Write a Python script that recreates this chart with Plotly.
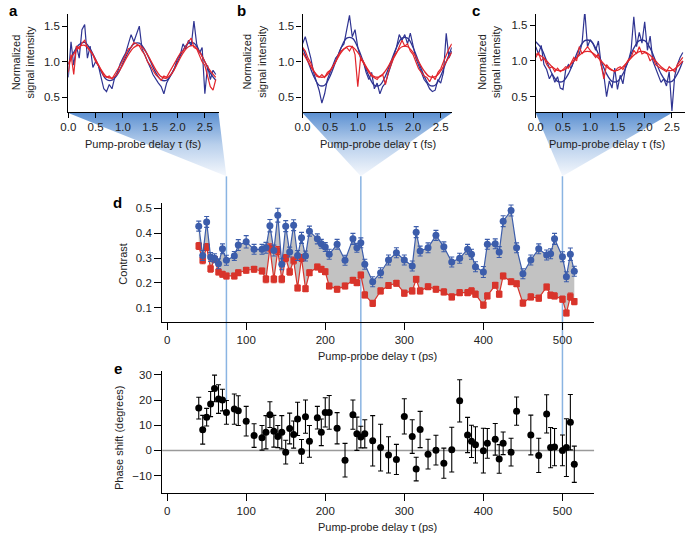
import plotly.graph_objects as go

W, H = 685, 535
FONT = "Liberation Sans, Arial, sans-serif"
TXT = "#222222"

# ---------------- panels a-c : time grids (fs) ----------------
T_RAW = [0.00, 0.05, 0.10, 0.15, 0.20, 0.25, 0.30, 0.35, 0.40, 0.45, 0.50, 0.55, 0.60, 0.65,
         0.70, 0.75, 0.80, 0.85, 0.90, 0.95, 1.00, 1.05, 1.10, 1.15, 1.20, 1.25, 1.30, 1.35,
         1.40, 1.45, 1.50, 1.55, 1.60, 1.65, 1.70, 1.75, 1.80, 1.85, 1.90, 1.95, 2.00, 2.05,
         2.10, 2.15, 2.20, 2.25, 2.30, 2.35, 2.40, 2.45, 2.50, 2.55, 2.60, 2.65, 2.70]
T_FIT = [0.0, 0.1, 0.2, 0.3, 0.4, 0.5, 0.6, 0.7, 0.8, 0.9, 1.0, 1.1, 1.2, 1.3, 1.4,
         1.5, 1.6, 1.7, 1.8, 1.9, 2.0, 2.1, 2.2, 2.3, 2.4, 2.5, 2.6, 2.7]

# panel a
a_blue_raw = [0.78, 1.28, 0.95, 1.22, 1.05, 1.45, 1.52, 1.05, 1.22, 0.92, 1.00, 0.95, 0.78, 0.62,
              0.58, 0.68, 0.62, 0.78, 0.85, 0.97, 1.05, 1.12, 1.25, 1.38, 1.28, 1.40, 1.50, 1.18,
              1.10, 1.02, 0.92, 0.82, 0.75, 0.70, 0.65, 0.55, 0.70, 0.78, 0.85, 0.92, 1.05, 1.10,
              1.25, 1.18, 1.30, 1.22, 1.57, 1.25, 1.12, 1.20, 0.55, 0.95, 0.75, 0.88, 0.82]
a_red_raw = [0.85, 1.10, 0.82, 1.22, 1.18, 1.26, 1.30, 1.20, 1.15, 1.10, 1.00, 0.95, 0.88, 0.80,
             0.78, 0.80, 0.76, 0.82, 0.88, 0.95, 1.02, 1.10, 1.18, 1.20, 1.27, 1.25, 1.22, 1.15,
             1.10, 1.00, 0.95, 0.88, 0.82, 0.78, 0.74, 0.80, 0.78, 0.85, 0.92, 1.00, 1.05, 1.12,
             1.15, 1.22, 1.28, 1.33, 1.20, 1.18, 1.10, 1.00, 0.95, 0.78, 0.65, 0.60, 0.75]
a_blue_fit = [0.96, 1.13, 1.24, 1.27, 1.18, 1.03, 0.865, 0.75, 0.74, 0.82, 0.98, 1.14, 1.25, 1.26,
              1.17, 1.01, 0.85, 0.745, 0.74, 0.84, 1.00, 1.16, 1.26, 1.26, 1.15, 1.00, 0.84, 0.74]
a_red_fit = [0.97, 1.11, 1.21, 1.23, 1.16, 1.03, 0.89, 0.79, 0.77, 0.83, 0.96, 1.10, 1.20, 1.23,
             1.16, 1.03, 0.89, 0.79, 0.77, 0.84, 0.98, 1.12, 1.21, 1.22, 1.14, 1.00, 0.87, 0.78]

# panel b
b_blue_raw = [1.25, 1.35, 1.20, 1.05, 0.85, 0.72, 0.60, 0.42, 0.55, 0.75, 0.85, 0.95, 1.05, 1.10,
              1.20, 1.25, 1.45, 1.65, 1.35, 1.45, 1.20, 1.05, 1.00, 0.85, 0.75, 0.85, 0.62, 0.70,
              0.55, 0.65, 0.70, 0.82, 0.95, 1.05, 1.20, 1.38, 1.30, 1.38, 1.25, 1.40, 1.20, 1.05,
              0.95, 0.85, 0.75, 0.70, 0.62, 0.58, 0.60, 0.75, 0.70, 0.85, 1.40, 1.05, 1.15]
b_red_raw = [1.20, 1.15, 1.05, 0.98, 0.88, 0.80, 0.78, 0.82, 0.78, 0.85, 0.88, 0.95, 1.00, 1.10,
             1.15, 1.18, 1.20, 1.15, 1.22, 1.10, 0.65, 1.05, 0.98, 0.90, 0.85, 0.80, 0.78, 0.75,
             0.80, 0.82, 0.68, 0.85, 0.95, 1.05, 1.12, 1.20, 1.30, 1.22, 1.25, 1.15, 1.10, 1.00,
             0.90, 0.85, 0.80, 0.78, 0.72, 0.80, 0.75, 0.85, 0.90, 1.00, 1.10, 1.18, 1.25]
b_blue_fit = [1.20, 1.00, 0.80, 0.67, 0.67, 0.80, 1.00, 1.20, 1.33, 1.33, 1.20, 1.00, 0.80, 0.67,
              0.67, 0.80, 1.00, 1.20, 1.33, 1.33, 1.20, 1.00, 0.80, 0.67, 0.67, 0.80, 1.00, 1.20]
b_red_fit = [1.13, 1.00, 0.87, 0.79, 0.79, 0.87, 1.00, 1.13, 1.21, 1.21, 1.13, 1.00, 0.87, 0.79,
             0.79, 0.87, 1.00, 1.13, 1.21, 1.21, 1.13, 1.00, 0.87, 0.79, 0.79, 0.87, 1.00, 1.13]

# panel c
c_blue_raw = [1.20, 1.10, 1.22, 0.95, 0.88, 0.75, 0.82, 0.70, 0.78, 0.62, 0.60, 0.88, 0.95, 0.90,
              1.00, 1.05, 1.10, 1.25, 1.70, 1.20, 1.30, 1.25, 1.15, 1.28, 0.95, 0.80, 0.50, 0.72,
              0.62, 0.90, 0.60, 0.80, 0.68, 0.92, 1.00, 1.15, 1.62, 1.20, 1.40, 1.25, 1.55, 1.15,
              1.35, 1.00, 0.90, 0.82, 0.70, 0.75, 0.65, 0.85, 0.30, 0.78, 0.95, 1.05, 1.12]
c_red_raw = [1.05, 1.12, 1.00, 1.05, 0.95, 0.90, 0.92, 0.85, 0.90, 0.85, 0.88, 0.92, 0.90, 0.98,
             1.05, 1.00, 1.20, 1.10, 1.15, 1.20, 1.15, 1.10, 1.05, 1.10, 0.95, 0.75, 0.95, 0.90,
             0.88, 0.85, 0.90, 0.92, 0.88, 0.95, 1.02, 1.05, 1.15, 1.10, 1.20, 1.10, 1.12, 1.10,
             1.00, 1.05, 0.95, 0.92, 0.90, 0.88, 0.85, 0.92, 0.88, 0.85, 0.95, 1.00, 1.05]
c_blue_fit = [1.27, 1.18, 1.00, 0.82, 0.715, 0.715, 0.82, 1.00, 1.18, 1.285, 1.285, 1.18, 1.00, 0.82,
              0.715, 0.715, 0.82, 1.00, 1.18, 1.285, 1.285, 1.18, 1.00, 0.82, 0.715, 0.715, 0.82, 1.00]
c_red_fit = [1.10, 1.07, 1.00, 0.92, 0.87, 0.87, 0.92, 1.00, 1.08, 1.13, 1.13, 1.08, 1.00, 0.92,
             0.87, 0.87, 0.92, 1.00, 1.08, 1.13, 1.13, 1.08, 1.00, 0.92, 0.87, 0.87, 0.92, 1.00]

# ---------------- panel d : contrast vs delay (ps) ----------------
d_delay = [40, 45, 50, 55, 60, 65, 70, 75, 85, 90, 100, 110, 120, 125, 130, 135, 140, 145, 150,
           155, 160, 165, 170, 175, 180, 190, 195, 200, 205, 215, 225, 235, 240, 245, 250, 260,
           270, 280, 290, 300, 310, 315, 320, 330, 340, 350, 360, 370, 380, 385, 390, 400, 405,
           415, 420, 425, 435, 442, 450, 460, 470, 480, 485, 490, 500, 505, 510, 515]
d_blue = [0.428, 0.310, 0.445, 0.304, 0.299, 0.277, 0.337, 0.291, 0.308, 0.352, 0.365, 0.335,
          0.335, 0.341, 0.430, 0.330, 0.472, 0.275, 0.428, 0.324, 0.432, 0.310, 0.381, 0.308,
          0.408, 0.377, 0.357, 0.344, 0.315, 0.355, 0.291, 0.377, 0.341, 0.361, 0.275, 0.205,
          0.241, 0.292, 0.321, 0.292, 0.268, 0.404, 0.328, 0.341, 0.391, 0.345, 0.284, 0.299,
          0.335, 0.315, 0.265, 0.244, 0.355, 0.357, 0.324, 0.448, 0.491, 0.341, 0.237, 0.292,
          0.337, 0.312, 0.317, 0.377, 0.305, 0.225, 0.315, 0.247]
d_blue_err = [0.020, 0.020, 0.022, 0.018, 0.018, 0.020, 0.020, 0.020, 0.018, 0.022, 0.025, 0.020,
              0.020, 0.022, 0.025, 0.022, 0.028, 0.022, 0.022, 0.020, 0.022, 0.020, 0.022, 0.020,
              0.020, 0.020, 0.018, 0.018, 0.020, 0.020, 0.020, 0.022, 0.018, 0.020, 0.020, 0.020,
              0.020, 0.020, 0.020, 0.020, 0.020, 0.022, 0.020, 0.020, 0.020, 0.020, 0.020, 0.020,
              0.020, 0.020, 0.020, 0.022, 0.020, 0.020, 0.022, 0.022, 0.022, 0.020, 0.020, 0.020,
              0.020, 0.020, 0.020, 0.022, 0.020, 0.020, 0.025, 0.020]
d_red = [0.348, 0.291, 0.344, 0.257, 0.295, 0.244, 0.235, 0.228, 0.228, 0.241, 0.251, 0.255,
         0.248, 0.215, 0.341, 0.215, 0.330, 0.215, 0.300, 0.245, 0.290, 0.180, 0.300, 0.177,
         0.241, 0.264, 0.255, 0.245, 0.188, 0.175, 0.188, 0.211, 0.201, 0.232, 0.152, 0.118,
         0.168, 0.190, 0.199, 0.159, 0.168, 0.215, 0.168, 0.185, 0.175, 0.164, 0.144, 0.161,
         0.161, 0.168, 0.155, 0.111, 0.148, 0.191, 0.155, 0.228, 0.205, 0.197, 0.119, 0.144,
         0.139, 0.184, 0.151, 0.148, 0.135, 0.079, 0.145, 0.125]
d_red_err = [0.014, 0.014, 0.014, 0.014, 0.012, 0.012, 0.012, 0.012, 0.012, 0.012, 0.012, 0.012,
             0.012, 0.014, 0.016, 0.014, 0.016, 0.014, 0.014, 0.014, 0.014, 0.012, 0.014, 0.012,
             0.012, 0.012, 0.012, 0.012, 0.012, 0.012, 0.012, 0.012, 0.012, 0.012, 0.012, 0.012,
             0.012, 0.012, 0.012, 0.012, 0.012, 0.012, 0.012, 0.012, 0.012, 0.012, 0.012, 0.012,
             0.012, 0.012, 0.012, 0.012, 0.012, 0.012, 0.012, 0.012, 0.012, 0.012, 0.012, 0.012,
             0.012, 0.012, 0.012, 0.012, 0.012, 0.012, 0.014, 0.012]

# ---------------- panel e : phase shift vs delay (ps) ----------------
e_delay = [40, 45, 50, 55, 60, 65, 70, 75, 85, 90, 100, 110, 120, 125, 130, 135, 140, 145, 150,
           155, 160, 165, 170, 175, 180, 190, 195, 200, 205, 215, 225, 235, 240, 245, 250, 260,
           270, 280, 290, 300, 310, 315, 320, 330, 340, 350, 360, 370, 380, 385, 390, 400, 405,
           415, 420, 425, 435, 442, 460, 470, 480, 485, 490, 500, 505, 510, 515]
e_phase = [16.8, 8.2, 13.2, 18.4, 24.6, 20.4, 20.0, 15.1, 16.4, 15.8, 11.6, 5.9, 5.0, 7.2, 14.2,
           7.6, 5.5, 7.2, -0.7, 8.7, 6.3, 12.5, -0.4, 13.4, 3.6, 13.0, 7.2, 15.1, 15.1, 8.8, -3.9,
           14.2, 6.6, 5.3, 6.6, 3.8, 1.1, -1.8, -3.6, 13.5, 5.5, -7.4, 8.3, -1.5, 0.1, -5.1, 0.3,
           19.7, 6.1, 3.6, 2.2, -0.1, 2.8, 4.4, -3.4, 2.8, -0.7, 15.6, 6.1, -2.0, 14.5, 1.1, 1.3,
           0.0, 1.1, 11.2, -5.5]
e_err = [4.3, 5.7, 3.5, 5.0, 5.3, 5.7, 4.3, 4.7, 6.0, 5.9, 5.9, 4.7, 4.9, 6.6, 5.1, 6.3, 4.4,
         6.6, 4.7, 6.1, 5.4, 6.6, 4.7, 6.6, 6.3, 4.5, 5.3, 5.8, 6.7, 6.2, 6.7, 5.8, 6.6, 4.3, 5.6,
         10.0, 9.3, 7.2, 6.0, 7.0, 6.7, 4.7, 7.2, 5.9, 5.9, 6.0, 8.9, 8.4, 7.0, 6.4, 7.2, 8.9,
         5.9, 6.3, 5.7, 4.5, 5.5, 5.6, 7.9, 6.8, 7.6, 8.0, 7.4, 6.1, 11.5, 11.0, 7.2]

# delays of the example traces a, b, c
example_delays = [75, 245, 500]

# ---------------- geometry (pixels) ----------------
PANELS_TOP = {
    "a": dict(xd=(61, 213), yd=(12, 110), xr=(0, 2.75), yr=(0.30, 1.67), wedge=(0, 2.75)),
    "b": dict(xd=(298, 449), yd=(12, 110), xr=(0, 2.70), yr=(0.30, 1.67), wedge=(0, 2.70)),
    "c": dict(xd=(534, 685), yd=(12, 110), xr=(0, 2.74), yr=(0.29, 1.66), wedge=(0, 2.50)),
}
D = dict(xd=(156, 593), yd=(202, 321), xr=(-6.25, 540), yr=(0.044, 0.52))
E = dict(xd=(156, 593), yd=(370, 493), xr=(-6.25, 540), yr=(-17, 31.7))
APEX_Y = 175


def fx(px):
    return px / W


def fy(py):
    return 1 - py / H


def to_px_x(v, p):
    (a, b), (r0, r1) = p["xd"], p["xr"]
    return a + (v - r0) / (r1 - r0) * (b - a)


def to_px_y(v, p):
    (top, bot), (r0, r1) = p["yd"], p["yr"]
    return bot - (v - r0) / (r1 - r0) * (bot - top)


BLUE_LINE = "#2f3492"
RED_LINE = "#e2262c"
BLUE_PT = "#3c5dab"
RED_PT = "#d8342b"
GUIDE = "#8ab4e2"

fig = go.Figure()

# overlay (pixel coordinates): wedges and guide lines
for key, delay in zip(["a", "b", "c"], example_delays):
    p = PANELS_TOP[key]
    xl = to_px_x(p["wedge"][0], p)
    xr = to_px_x(p["wedge"][1], p)
    ytop = p["yd"][1] + 1.5
    xa = to_px_x(delay, D)
    fig.add_trace(go.Scatter(
        x=[xl, xr, xa, xl], y=[ytop, ytop, APEX_Y, ytop], mode="lines", fill="toself",
        line=dict(width=0, color="rgba(0,0,0,0)"),
        fillgradient=dict(type="vertical", colorscale=[[0, "#f5f8fd"], [0.5, "#b9d0ec"], [1, "#5d91d2"]]),
        xaxis="x", yaxis="y", hoverinfo="skip", showlegend=False))
    i = e_delay.index(delay)
    yend = to_px_y(e_phase[i] + e_err[i], E)
    fig.add_trace(go.Scatter(
        x=[xa, xa], y=[APEX_Y, yend], mode="lines", line=dict(color=GUIDE, width=1.5),
        xaxis="x", yaxis="y", hoverinfo="skip", showlegend=False))

# panels a-c
series = {
    "a": (a_blue_raw, a_blue_fit, a_red_raw, a_red_fit),
    "b": (b_blue_raw, b_blue_fit, b_red_raw, b_red_fit),
    "c": (c_blue_raw, c_blue_fit, c_red_raw, c_red_fit),
}
axn = {"a": 2, "b": 3, "c": 4}
for key, (br, bf, rr, rf) in series.items():
    n = axn[key]
    xa, ya = f"x{n}", f"y{n}"
    fig.add_trace(go.Scatter(x=T_RAW, y=br, mode="lines", line=dict(color=BLUE_LINE, width=1.2),
                             xaxis=xa, yaxis=ya, showlegend=False))
    fig.add_trace(go.Scatter(x=T_FIT, y=bf, mode="lines", line=dict(color=BLUE_LINE, width=1.3, shape="spline"),
                             xaxis=xa, yaxis=ya, showlegend=False))
    fig.add_trace(go.Scatter(x=T_RAW, y=rr, mode="lines", line=dict(color=RED_LINE, width=1.2),
                             xaxis=xa, yaxis=ya, showlegend=False))
    fig.add_trace(go.Scatter(x=T_FIT, y=rf, mode="lines", line=dict(color=RED_LINE, width=1.3, shape="spline"),
                             xaxis=xa, yaxis=ya, showlegend=False))

# panel d: gray band then points
fig.add_trace(go.Scatter(x=d_delay, y=d_red, mode="lines", line=dict(width=0, color="rgba(0,0,0,0)"),
                         xaxis="x5", yaxis="y5", showlegend=False, hoverinfo="skip"))
fig.add_trace(go.Scatter(x=d_delay, y=d_blue, mode="lines", line=dict(width=0, color="rgba(0,0,0,0)"),
                         fill="tonexty", fillcolor="#c2c2c2",
                         xaxis="x5", yaxis="y5", showlegend=False, hoverinfo="skip"))
fig.add_trace(go.Scatter(x=d_delay, y=d_red, mode="lines+markers",
                         line=dict(color=RED_PT, width=1.2),
                         marker=dict(symbol="square", size=6.5, color=RED_PT),
                         error_y=dict(type="data", array=d_red_err, color=RED_PT, thickness=1.1, width=2.5),
                         xaxis="x5", yaxis="y5", showlegend=False))
fig.add_trace(go.Scatter(x=d_delay, y=d_blue, mode="lines+markers",
                         line=dict(color=BLUE_PT, width=1.2),
                         marker=dict(symbol="circle", size=7, color=BLUE_PT),
                         error_y=dict(type="data", array=d_blue_err, color=BLUE_PT, thickness=1.1, width=2.5),
                         xaxis="x5", yaxis="y5", showlegend=False))

# panel e
fig.add_trace(go.Scatter(x=e_delay, y=e_phase, mode="markers",
                         marker=dict(symbol="circle", size=7, color="black"),
                         error_y=dict(type="data", array=e_err, color="black", thickness=1.1, width=2.5),
                         xaxis="x6", yaxis="y6", showlegend=False))

tickfont = dict(family=FONT, size=11.5, color=TXT)
base_axis = dict(showline=True, linecolor="black", linewidth=1.1, ticks="outside", ticklen=5,
                 tickwidth=1.1, tickcolor="black", showgrid=False, zeroline=False, tickfont=tickfont)
long_ticks = dict(base_axis, ticklen=7)

layout = dict(
    width=W, height=H, autosize=False, margin=dict(l=0, r=0, t=0, b=0),
    paper_bgcolor="white", plot_bgcolor="rgba(0,0,0,0)", showlegend=False,
    xaxis=dict(domain=[0, 1], range=[0, W], visible=False, fixedrange=True),
    yaxis=dict(domain=[0, 1], range=[H, 0], visible=False, fixedrange=True),
)
for key, n in axn.items():
    p = PANELS_TOP[key]
    layout[f"xaxis{n}"] = dict(base_axis, domain=[fx(p["xd"][0]), fx(p["xd"][1])], range=list(p["xr"]),
                               anchor=f"y{n}", tickvals=[0, 0.5, 1, 1.5, 2, 2.5],
                               ticktext=["0.0", "0.5", "1.0", "1.5", "2.0", "2.5"])
    layout[f"yaxis{n}"] = dict(base_axis, domain=[fy(p["yd"][1]), fy(p["yd"][0])], range=list(p["yr"]),
                               anchor=f"x{n}", tickvals=[0.5, 1.0, 1.5], ticktext=["0.5", "1.0", "1.5"])
layout["xaxis5"] = dict(long_ticks, domain=[fx(D["xd"][0]), fx(D["xd"][1])], range=list(D["xr"]),
                        anchor="y5", tickvals=[0, 100, 200, 300, 400, 500])
layout["yaxis5"] = dict(long_ticks, domain=[fy(D["yd"][1]), fy(D["yd"][0])], range=list(D["yr"]),
                        anchor="x5", tickvals=[0.1, 0.2, 0.3, 0.4, 0.5],
                        ticktext=["0.1", "0.2", "0.3", "0.4", "0.5"])
layout["xaxis6"] = dict(long_ticks, domain=[fx(E["xd"][0]), fx(E["xd"][1])], range=list(E["xr"]),
                        anchor="y6", tickvals=[0, 100, 200, 300, 400, 500])
layout["yaxis6"] = dict(long_ticks, domain=[fy(E["yd"][1]), fy(E["yd"][0])], range=list(E["yr"]),
                        anchor="x6", tickvals=[-10, 0, 10, 20, 30])
fig.update_layout(**layout)

fig.add_shape(type="line", xref="x6 domain", yref="y6", x0=0, x1=1, y0=0, y1=0,
              line=dict(color="#9a9a9a", width=1.5), layer="below")


def ann(text, px, py, size=11, bold=False, angle=0):
    fig.add_annotation(text=f"<b>{text}</b>" if bold else text, x=fx(px), y=fy(py),
                       xref="paper", yref="paper", showarrow=False, textangle=angle,
                       font=dict(family=FONT, size=size, color="black" if bold else TXT),
                       xanchor="center", yanchor="middle")


ann("a", 6, 9, size=15, bold=True)
ann("b", 236, 9, size=15, bold=True)
ann("c", 474, 9, size=15, bold=True)
ann("d", 111, 201, size=15, bold=True)
ann("e", 111, 368, size=15, bold=True)

xt = "Pump-probe delay τ (fs)"
ann(xt, 137, 143)
ann(xt, 374, 143)
ann(xt, 606, 143)
ann("Pump-probe delay τ (ps)", 374, 355)
ann("Pump-probe delay τ (ps)", 374, 527)
yt = "Normalized<br>signal intensity"
ann(yt, 15, 60, angle=-90)
ann(yt, 249, 60, angle=-90)
ann(yt, 486, 60, angle=-90)
ann("Contrast", 116, 263, angle=-90)
ann("Phase shift (degrees)", 113, 437, angle=-90)

fig.write_html(
    "out.html",
    config={"displayModeBar": False},
    post_script="document.body.style.margin='0';document.body.style.padding='0';"
                "document.documentElement.style.overflow='hidden';",
)
